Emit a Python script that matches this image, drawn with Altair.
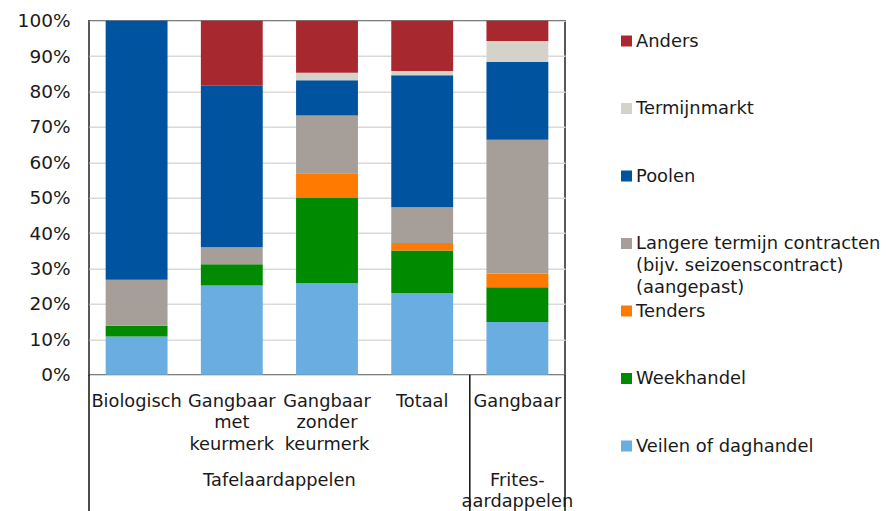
import altair as alt
import pandas as pd

# ---- data ----
categories = ["Biologisch", "Gangbaar met keurmerk", "Gangbaar zonder keurmerk", "Totaal", "Gangbaar"]
series = [
    "Veilen of daghandel",
    "Weekhandel",
    "Tenders",
    "Langere termijn contracten (bijv. seizoenscontract) (aangepast)",
    "Poolen",
    "Termijnmarkt",
    "Anders",
]
colors = ["#6aade1", "#008a00", "#ff7a00", "#a69e98", "#00539f", "#d5d2ca", "#a8282f"]

veilen = [10.8, 25.2, 25.8, 23.1, 14.9]
weekhandel = [3.0, 6.0, 24.1, 12.0, 9.8]
tenders = [0.0, 0.0, 7.0, 2.1, 3.9]
langere = [13.0, 4.8, 16.3, 10.1, 37.8]
poolen = [73.2, 45.6, 10.0, 37.3, 21.9]
termijn = [0.0, 0.0, 2.1, 1.2, 6.0]
anders = [0.0, 18.4, 14.7, 14.2, 5.7]

legend_labels = [
    "Anders",
    "Termijnmarkt",
    "Poolen",
    "Langere termijn contracten\n(bijv. seizoenscontract)\n(aangepast)",
    "Tenders",
    "Weekhandel",
    "Veilen of daghandel",
]
group_tafel = "Tafelaardappelen"
group_frites = "Frites-\naardappelen"

# ---- tables ----
values = [veilen, weekhandel, tenders, langere, poolen, termijn, anders]
rows = []
for si, (s, vals) in enumerate(zip(series, values)):
    for c, v in zip(categories, vals):
        rows.append({"category": c, "series": s, "value": v, "order": si})
df = pd.DataFrame(rows)

legend_series = series[::-1]
legend_df = pd.DataFrame({"series": legend_series, "label": legend_labels})

FONT = "DejaVu Sans"
TXT = "#1a1a1a"
XFS = 17.8
xscale = alt.Scale(paddingInner=0, paddingOuter=0)
color_scale = alt.Scale(domain=series, range=colors)


def xenc(band=0.5, axis=None):
    kw = dict(sort=categories, scale=xscale, title=None, bandPosition=band)
    if axis is not None:
        kw["axis"] = axis
    return alt.X("category:N", **kw)


bars = alt.Chart(df).mark_bar(width=alt.RelativeBandSize(0.65)).encode(
    x=xenc(
        0.5,
        alt.Axis(
            labelExpr="split(datum.label, ' ')",
            labelAngle=0,
            labelFontSize=XFS,
            labelLineHeight=21.5,
            labelPadding=17.5,
            labelOverlap=False,
            labelLimit=0,
            ticks=False,
            domain=False,
            grid=False,
            labelColor=TXT,
            labelFont=FONT,
        ),
    ),
    y=alt.Y(
        "value:Q",
        stack="zero",
        scale=alt.Scale(domain=[0, 100]),
        title=None,
        axis=alt.Axis(
            values=list(range(0, 101, 10)),
            labelExpr="datum.value + '%'",
            labelFontSize=18.5,
            labelPadding=19,
            labelColor=TXT,
            labelFont=FONT,
            ticks=False,
            domain=False,
            gridColor="#d9d9d9",
            gridWidth=1.5,
        ),
    ),
    color=alt.Color("series:N", scale=color_scale, legend=None),
    order=alt.Order("order:Q", sort="ascending"),
)

rule_start = alt.Chart(pd.DataFrame({"category": ["Biologisch", "Gangbaar"]})).mark_rule(
    color="#111", strokeWidth=1.5
).encode(x=xenc(0), y=alt.value(354), y2=alt.value(700))

rule_end = alt.Chart(pd.DataFrame({"category": ["Gangbaar"]})).mark_rule(
    color="#111", strokeWidth=1.5
).encode(x=xenc(1), y=alt.value(354), y2=alt.value(700))

tafel = alt.Chart(pd.DataFrame({"category": ["Gangbaar met keurmerk"], "label": [group_tafel]})).mark_text(
    font=FONT, fontSize=XFS, baseline="top", align="center", color=TXT, lineBreak="\n", lineHeight=21.5
).encode(x=xenc(1), y=alt.value(451), text="label:N")

frites = alt.Chart(pd.DataFrame({"category": ["Gangbaar"], "label": [group_frites]})).mark_text(
    font=FONT, fontSize=XFS, baseline="top", align="center", color=TXT, lineBreak="\n", lineHeight=21.5
).encode(x=xenc(0.5), y=alt.value(451), text="label:N")

ly = alt.Y(
    "series:N",
    sort=legend_series,
    scale=alt.Scale(type="point", range=[20.3, 425.3], padding=0),
    axis=None,
    title=None,
)

leg_sq = alt.Chart(legend_df).mark_square(size=121, opacity=1).encode(
    x=alt.value(537.5), y=ly, color=alt.Color("series:N", scale=color_scale, legend=None)
)
leg_txt = alt.Chart(legend_df).mark_text(
    font=FONT, fontSize=17.9, align="left", baseline="top", dy=-8.5, color=TXT, lineBreak="\n", lineHeight=22
).encode(x=alt.value(547), y=ly, text="label:N")

main = alt.layer(bars, rule_start, rule_end, tafel, frites)
legend = alt.layer(leg_sq, leg_txt)

chart = (
    alt.layer(main, legend)
    .resolve_scale(y="independent")
    .properties(
        width=476,
        height=354,
        autosize=alt.AutoSizeParams(type="none"),
        padding={"left": 81, "top": 12.7, "right": 317, "bottom": 136.3},
    )
    .configure(font=FONT)
    .configure_view(stroke="#222", strokeWidth=1.5)
)

chart.save("out.html", embed_options={"renderer": "svg", "actions": False})
